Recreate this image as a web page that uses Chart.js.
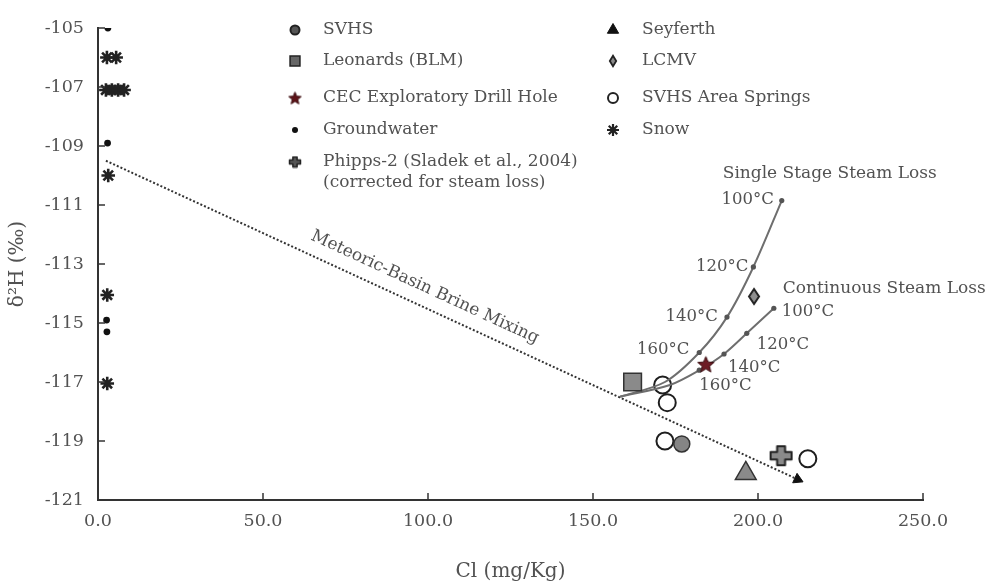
<!DOCTYPE html>
<html>
<head>
<meta charset="utf-8">
<script src="https://cdn.jsdelivr.net/npm/chart.js@4.4.1/dist/chart.umd.min.js"></script>
<style>
  html, body { margin: 0; padding: 0; background: #fff; }
  #wrap { width: 987px; height: 586px; }
</style>
</head>
<body>
<div id="wrap"><canvas id="c" width="987" height="586"></canvas></div>
<script>
// ---- data: Cl (mg/Kg) vs δ2H (‰) ----
const groundwater = [[3.0, -105.0], [2.9, -108.9], [2.6, -114.9], [2.7, -115.3]];
const snow = [[2.7, -106.0], [5.5, -106.0], [2.4, -107.1], [4.2, -107.1], [6.1, -107.1], [7.9, -107.1],
              [3.1, -110.0], [2.8, -114.05], [2.8, -117.05]];
const svhs = [[176.9, -119.1]];
const leonards = [[162.0, -117.0]];
const cecDrillHole = [[184.2, -116.4]];
const phipps2 = [[207.0, -119.5]];
const seyferth = [[196.3, -120.1]];
const lcmv = [[198.8, -114.1]];
const svhsSprings = [[171.1, -117.1], [172.5, -117.7], [171.8, -119.0], [215.1, -119.6]];
const mixingLine = [[2.4, -109.5], [212.0, -120.3]];
const singleStageLoss = [[158.2, -117.5], [171.8, -117.0], [182.2, -116.0], [190.6, -114.8], [198.6, -113.1], [207.2, -110.85]];
const continuousLoss = [[158.2, -117.5], [173.3, -117.1], [182.2, -116.6], [189.7, -116.05], [196.6, -115.35], [204.8, -114.5]];
// temperature of each curve point (blank = no marker)
const curveTemps = ['', '', '160°C', '140°C', '120°C', '100°C'];
const xTicks = [0, 50, 100, 150, 200, 250];
const yTicks = [-121, -119, -117, -115, -113, -111, -109, -107, -105];

const FONT = "'DejaVu Serif', 'Liberation Serif', serif";
const TEXT = '#525252';
const pts = arr => arr.map(([x, y]) => ({ x, y }));

// ---- custom marker shapes ----
function markerCanvas(w, h, draw) {
  const c = document.createElement('canvas');
  c.width = w; c.height = h;
  draw(c.getContext('2d'), w, h);
  return c;
}
function starShape(size, fill, stroke) {
  return markerCanvas(size, size, (g, w, h) => {
    const cx = w / 2, cy = h / 2 + size * 0.04, ro = size / 2 - 1, ri = ro * 0.45;
    g.beginPath();
    for (let i = 0; i < 10; i++) {
      const r = i % 2 ? ri : ro, a = -Math.PI / 2 + i * Math.PI / 5;
      g.lineTo(cx + r * Math.cos(a), cy + r * Math.sin(a));
    }
    g.closePath();
    g.fillStyle = fill; g.fill();
    g.lineWidth = 1; g.strokeStyle = stroke; g.stroke();
  });
}
function plusShape(w, h, fill, stroke, lw) {
  return markerCanvas(w, h, (g) => {
    const p = lw, W = w - 2 * p, H = h - 2 * p, tx = W * 0.38, ty = H * 0.4;
    const x0 = p, y0 = p, ax = x0 + (W - tx) / 2, ay = y0 + (H - ty) / 2;
    g.beginPath();
    g.moveTo(ax, y0); g.lineTo(ax + tx, y0); g.lineTo(ax + tx, ay); g.lineTo(x0 + W, ay);
    g.lineTo(x0 + W, ay + ty); g.lineTo(ax + tx, ay + ty); g.lineTo(ax + tx, y0 + H);
    g.lineTo(ax, y0 + H); g.lineTo(ax, ay + ty); g.lineTo(x0, ay + ty); g.lineTo(x0, ay); g.lineTo(ax, ay);
    g.closePath();
    g.fillStyle = fill; g.fill();
    g.lineWidth = lw; g.strokeStyle = stroke; g.lineJoin = 'round'; g.stroke();
  });
}
function diamondShape(w, h, fill, stroke, lw) {
  return markerCanvas(w, h, (g) => {
    const p = lw;
    g.beginPath();
    g.moveTo(w / 2, p); g.lineTo(w - p, h / 2); g.lineTo(w / 2, h - p); g.lineTo(p, h / 2);
    g.closePath();
    g.fillStyle = fill; g.fill();
    g.lineWidth = lw; g.strokeStyle = stroke; g.stroke();
  });
}

const starBig = starShape(19, '#6d1c24', '#3a0c10');
const starSmall = starShape(15, '#5e1419', '#3a0c10');
const plusBig = plusShape(25, 23, '#8a8a8a', '#222', 2);
const plusSmall = plusShape(14, 13, '#555', '#222', 1.5);
const diamondBig = diamondShape(14, 19, '#8e8e8e', '#222', 2);
const diamondSmall = diamondShape(10, 14, '#8a8a8a', '#222', 1.8);

// ---- legend (two columns inside the plot) ----
const legendItems = [
  { x: 295, y: 30, tx: 323, text: ['SVHS'], m: { pointStyle: 'circle', radius: 4.5, borderWidth: 2, fill: '#555', stroke: '#222' } },
  { x: 295, y: 61, tx: 323, text: ['Leonards (BLM)'], m: { pointStyle: 'rect', radius: 7, borderWidth: 1.5, fill: '#666', stroke: '#222' } },
  { x: 295, y: 98, tx: 323, text: ['CEC Exploratory Drill Hole'], m: { pointStyle: starSmall, radius: 7 } },
  { x: 295, y: 130, tx: 323, text: ['Groundwater'], m: { pointStyle: 'circle', radius: 3, borderWidth: 0, fill: '#111', stroke: '#111' } },
  { x: 295, y: 162, tx: 323, text: ['Phipps-2 (Sladek et al., 2004)', '(corrected for steam loss)'], m: { pointStyle: plusSmall, radius: 7 } },
  { x: 613, y: 30, tx: 642, text: ['Seyferth'], m: { pointStyle: 'triangle', radius: 6.5, borderWidth: 1, fill: '#111', stroke: '#111' } },
  { x: 613, y: 61, tx: 642, text: ['LCMV'], m: { pointStyle: diamondSmall, radius: 7 } },
  { x: 613, y: 98, tx: 642, text: ['SVHS Area Springs'], m: { pointStyle: 'circle', radius: 5, borderWidth: 2, fill: '#fff', stroke: '#222' } },
  { x: 613, y: 130, tx: 642, text: ['Snow'], m: { pointStyle: 'star', radius: 6, borderWidth: 2.2, fill: '#222', stroke: '#222' } }
];

const legendPlugin = {
  id: 'insideLegend',
  afterDraw(chart) {
    const ctx = chart.ctx;
    ctx.save();
    legendItems.forEach(it => {
      ctx.fillStyle = it.m.fill || '#000';
      ctx.strokeStyle = it.m.stroke || '#000';
      ctx.lineWidth = it.m.borderWidth || 0;
      Chart.helpers.drawPoint(ctx, { pointStyle: it.m.pointStyle, radius: it.m.radius, rotation: 0, borderWidth: it.m.borderWidth || 0 }, it.x, it.y);
      ctx.fillStyle = TEXT;
      ctx.font = '17px ' + FONT;
      ctx.textAlign = 'left';
      ctx.textBaseline = 'middle';
      it.text.forEach((t, i) => ctx.fillText(t, it.tx, it.y + i * 21));
    });
    ctx.restore();
  }
};

// ---- inward tick marks ----
const innerTicks = {
  id: 'innerTicks',
  afterDraw(chart) {
    const { ctx, scales: { x, y } } = chart;
    ctx.save();
    ctx.strokeStyle = '#333';
    ctx.lineWidth = 1.5;
    x.ticks.forEach(t => {
      if (t.value === x.min) return;
      const px = x.getPixelForValue(t.value);
      ctx.beginPath(); ctx.moveTo(px, x.top); ctx.lineTo(px, x.top - 7); ctx.stroke();
    });
    y.ticks.forEach(t => {
      if (t.value === y.min) return;
      const py = y.getPixelForValue(t.value);
      ctx.beginPath(); ctx.moveTo(y.right, py); ctx.lineTo(y.right + 7, py); ctx.stroke();
    });
    ctx.restore();
  }
};

// ---- curve names, temperatures and mixing-line label ----
const annotations = {
  id: 'annotations',
  afterDatasetsDraw(chart) {
    const { ctx, scales: { x, y } } = chart;
    const P = (d) => [x.getPixelForValue(d[0]), y.getPixelForValue(d[1])];
    ctx.save();
    ctx.fillStyle = TEXT;
    ctx.textBaseline = 'middle';
    ctx.font = '16.5px ' + FONT;

    // single stage: labels to the left of the dots
    const singleOff = { '100°C': [-8, -1], '120°C': [-5, 0], '140°C': [-9, 0], '160°C': [-10, -3] };
    ctx.textAlign = 'right';
    singleStageLoss.forEach((d, i) => {
      const t = curveTemps[i]; if (!t) return;
      const [px, py] = P(d);
      ctx.fillText(t, px + singleOff[t][0], py + singleOff[t][1]);
    });
    // continuous: labels to the right / below
    const contOff = { '100°C': [8, 3], '120°C': [10, 11], '140°C': [4, 14], '160°C': [0, 16] };
    ctx.textAlign = 'left';
    continuousLoss.forEach((d, i) => {
      const t = curveTemps[i]; if (!t) return;
      const [px, py] = P(d);
      ctx.fillText(t, px + contOff[t][0], py + contOff[t][1]);
    });

    // curve titles
    ctx.font = '17px ' + FONT;
    const s = P(singleStageLoss[singleStageLoss.length - 1]);
    ctx.fillText('Single Stage Steam Loss', s[0] - 59, s[1] - 27);
    const c = P(continuousLoss[continuousLoss.length - 1]);
    ctx.fillText('Continuous Steam Loss', c[0] + 9, c[1] - 20);

    // mixing-line label, parallel to the line
    const a = P(mixingLine[0]), b = P(mixingLine[1]);
    const ang = Math.atan2(b[1] - a[1], b[0] - a[0]);
    const t = 0.45;
    const mx = a[0] + (b[0] - a[0]) * t, my = a[1] + (b[1] - a[1]) * t;
    ctx.translate(mx + 10 * Math.sin(ang), my - 10 * Math.cos(ang));
    ctx.rotate(ang);
    ctx.textAlign = 'center';
    ctx.textBaseline = 'bottom';
    ctx.fillText('Meteoric-Basin Brine Mixing', 0, 0);
    ctx.restore();
  }
};

const fixedBoxes = {
  x: s => { s.height = 86; },
  y: s => { s.width = 98; }
};

new Chart(document.getElementById('c'), {
  type: 'scatter',
  data: {
    datasets: [
      { label: 'Meteoric-Basin Brine Mixing', data: pts(mixingLine), showLine: true,
        borderColor: '#333', borderWidth: 2, borderDash: [2, 2],
        pointRadius: [0, 6], pointStyle: 'triangle', pointRotation: 114.8,
        pointBackgroundColor: '#111', pointBorderColor: '#111', pointBorderWidth: 1, order: 9 },
      { label: 'Single Stage Steam Loss', data: pts(singleStageLoss), showLine: true,
        borderColor: '#6e6e6e', borderWidth: 2, tension: 0.3,
        pointRadius: curveTemps.map(t => t ? 2.6 : 0), pointBackgroundColor: '#555', pointBorderWidth: 0, order: 4 },
      { label: 'Continuous Steam Loss', data: pts(continuousLoss), showLine: true,
        borderColor: '#6e6e6e', borderWidth: 2, tension: 0.3,
        pointRadius: curveTemps.map(t => t ? 2.6 : 0), pointBackgroundColor: '#555', pointBorderWidth: 0, order: 4 },
      { label: 'SVHS Area Springs', data: pts(svhsSprings), pointStyle: 'circle', pointRadius: 8.5,
        pointBackgroundColor: '#fff', pointBorderColor: '#1e1e1e', pointBorderWidth: 2, order: 6 },
      { label: 'SVHS', data: pts(svhs), pointStyle: 'circle', pointRadius: 8,
        pointBackgroundColor: '#858585', pointBorderColor: '#333', pointBorderWidth: 1.5, order: 2 },
      { label: 'Leonards (BLM)', data: pts(leonards), pointStyle: 'rect', pointRadius: 12.5,
        pointBackgroundColor: '#8a8a8a', pointBorderColor: '#333', pointBorderWidth: 1.5, order: 2 },
      { label: 'CEC Exploratory Drill Hole', data: pts(cecDrillHole), pointStyle: starBig, pointRadius: 9, order: 1 },
      { label: 'Groundwater', data: pts(groundwater), pointStyle: 'circle', pointRadius: 3.4,
        pointBackgroundColor: '#111', pointBorderColor: '#111', pointBorderWidth: 0, order: 2 },
      { label: 'Phipps-2 (Sladek et al., 2004)', data: pts(phipps2), pointStyle: plusBig, pointRadius: 12, order: 2 },
      { label: 'Seyferth', data: pts(seyferth), pointStyle: 'triangle', pointRadius: 12,
        pointBackgroundColor: '#8a8a8a', pointBorderColor: '#333', pointBorderWidth: 1.5, order: 2 },
      { label: 'LCMV', data: pts(lcmv), pointStyle: diamondBig, pointRadius: 9, order: 2 },
      { label: 'Snow', data: pts(snow), pointStyle: 'star', pointRadius: 6.8,
        pointBackgroundColor: '#222', pointBorderColor: '#222', pointBorderWidth: 2.6, order: 2 }
    ]
  },
  options: {
    responsive: false,
    animation: false,
    events: [],
    layout: { padding: { top: 28, right: 64, left: 0, bottom: 0 } },
    plugins: { legend: { display: false }, tooltip: { enabled: false } },
    scales: {
      x: {
        type: 'linear', min: 0, max: 250,
        afterBuildTicks: s => { s.ticks = xTicks.map(v => ({ value: v })); },
        afterFit: fixedBoxes.x,
        grid: { display: false, drawTicks: false },
        border: { display: true, color: '#333', width: 2 },
        ticks: { padding: 11, color: TEXT, font: { family: FONT, size: 17.5 }, callback: v => v.toFixed(1) },
        title: { display: true, text: 'Cl (mg/Kg)', color: TEXT, font: { family: FONT, size: 20 }, padding: { top: 0, bottom: 2 } }
      },
      y: {
        type: 'linear', min: -121, max: -105,
        afterBuildTicks: s => { s.ticks = yTicks.map(v => ({ value: v })); },
        afterFit: fixedBoxes.y,
        grid: { display: false, drawTicks: false },
        border: { display: true, color: '#333', width: 2 },
        ticks: { padding: 14, color: TEXT, font: { family: FONT, size: 17.5 }, callback: v => String(v) },
        title: { display: true, text: 'δ²H (‰)', color: TEXT, font: { family: FONT, size: 20 }, padding: { top: 6, bottom: 0 } }
      }
    }
  },
  plugins: [innerTicks, annotations, legendPlugin]
});
</script>
</body>
</html>
